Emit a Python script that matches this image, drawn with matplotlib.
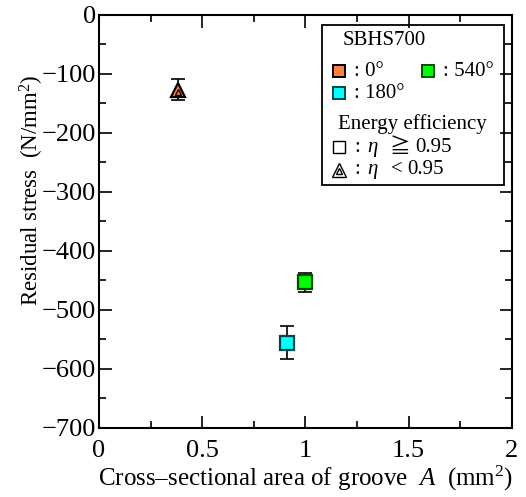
import matplotlib
matplotlib.use("Agg")
import matplotlib.pyplot as plt
from matplotlib.patches import Rectangle

plt.rcParams['font.family'] = ['Liberation Serif', 'DejaVu Serif']
plt.rcParams['mathtext.fontset'] = 'custom'
plt.rcParams['mathtext.rm'] = 'Liberation Serif'
plt.rcParams['mathtext.it'] = 'Liberation Serif:italic'

# data
labels = ['0°', '180°', '540°']
area = [0.384, 0.909, 0.996]
stress = [-127, -556, -453]
err = [18, 28, 16]
fills = ['#FF7F3F', '#00FFFF', '#00FF00']
edges = ['#000000', '#004848', '#005000']
markers = ['^', 's', 's']

fig = plt.figure(figsize=(5.26, 4.97), dpi=100)
ax = fig.add_axes([0.188, 0.139, 0.785, 0.831])

for x, y, e, fc, ec, m in zip(area, stress, err, fills, edges, markers):
    ax.errorbar(x, y, yerr=e, fmt='none', ecolor='black', elinewidth=1.2,
                capsize=5, capthick=1.2, zorder=2)
    ax.plot(x, y, marker=m, ms=10 if m == '^' else 9.5, mfc=fc, mec=ec, mew=1.6,
            ls='none', zorder=3)
    if m == '^':
        ax.plot(x, y - 3, marker='^', ms=4.5, mfc='none', mec='black', mew=1.0,
                ls='none', zorder=4)

ax.set_xlim(0, 2)
ax.set_ylim(-700, 0)
ax.set_xticks([0, 0.5, 1, 1.5, 2])
ax.set_xticklabels(['0', '0.5', '1', '1.5', '2'])
ax.set_xticks([0.25, 0.75, 1.25, 1.75], minor=True)
ax.set_yticks(range(-700, 1, 100))
ax.set_yticklabels(['−700', '−600', '−500', '−400', '−300', '−200', '−100', '0'])
ax.set_yticks(range(-650, 0, 100), minor=True)
ax.tick_params(which='both', direction='in', top=True, right=True, labelsize=19,
               width=1.2)
ax.tick_params(axis='y', pad=2)
ax.tick_params(axis='x', pad=9)
ax.tick_params(which='major', length=9)
ax.tick_params(which='minor', length=5)
for s in ax.spines.values():
    s.set_linewidth(1.5)

ax.set_xlabel('Cross–sectional area of groove  $A$  (mm$^2$)', fontsize=18, labelpad=1)
ax.set_ylabel('Residual stress  (N/mm$^2$)', fontsize=16.5, va='center')
ax.yaxis.set_label_coords(-0.162, 0.576)

# legend box drawn by hand
tr = ax.transAxes
ax.add_patch(Rectangle((0.541, 0.588), 0.44, 0.388, transform=tr, fill=False,
                       lw=1.3, ec='black', zorder=5))
fs = 15
ax.text(0.591, 0.937, 'SBHS700', transform=tr, fontsize=fs, va='center', zorder=6)
leg_pos = [(0.581, 0.863), (0.581, 0.810), (0.797, 0.863)]
for (lx, ly), lab, fc, ec in zip(leg_pos, labels, fills, edges):
    ax.plot(lx, ly, transform=tr, marker='s', ms=8.5, mfc=fc, mec=ec, mew=1.4,
            ls='none', zorder=6, clip_on=False)
    ax.text(lx + 0.037, ly, ': ' + lab, transform=tr, fontsize=fs, va='center', zorder=6)
ax.text(0.579, 0.736, 'Energy efficiency', transform=tr, fontsize=fs, va='center', zorder=6)

ax.plot(0.581, 0.680, transform=tr, marker='s', ms=8.5, mfc='white', mec='black',
        mew=1.0, ls='none', zorder=6, clip_on=False)
ax.text(0.618, 0.680, ':', transform=tr, fontsize=fs, va='center', zorder=6)
ax.text(0.650, 0.680, 'η', transform=tr, fontsize=fs, va='center', style='italic', zorder=6)
ax.text(0.705, 0.680, '≧', transform=tr, fontsize=fs, va='center', zorder=6,
        family=['Noto Sans CJK JP'])
ax.text(0.765, 0.680, '0.95', transform=tr, fontsize=fs, va='center', zorder=6)

ax.plot(0.581, 0.625, transform=tr, marker='^', ms=9.5, mfc='white', mec='black',
        mew=1.0, ls='none', zorder=6, clip_on=False)
ax.plot(0.581, 0.621, transform=tr, marker='^', ms=4.5, mfc='none', mec='black',
        mew=1.0, ls='none', zorder=7, clip_on=False)
ax.text(0.618, 0.625, ':', transform=tr, fontsize=fs, va='center', zorder=6)
ax.text(0.650, 0.625, 'η', transform=tr, fontsize=fs, va='center', style='italic', zorder=6)
ax.text(0.707, 0.625, '<', transform=tr, fontsize=fs, va='center', zorder=6)
ax.text(0.746, 0.625, '0.95', transform=tr, fontsize=fs, va='center', zorder=6)

fig.savefig('out.png', dpi=100)
